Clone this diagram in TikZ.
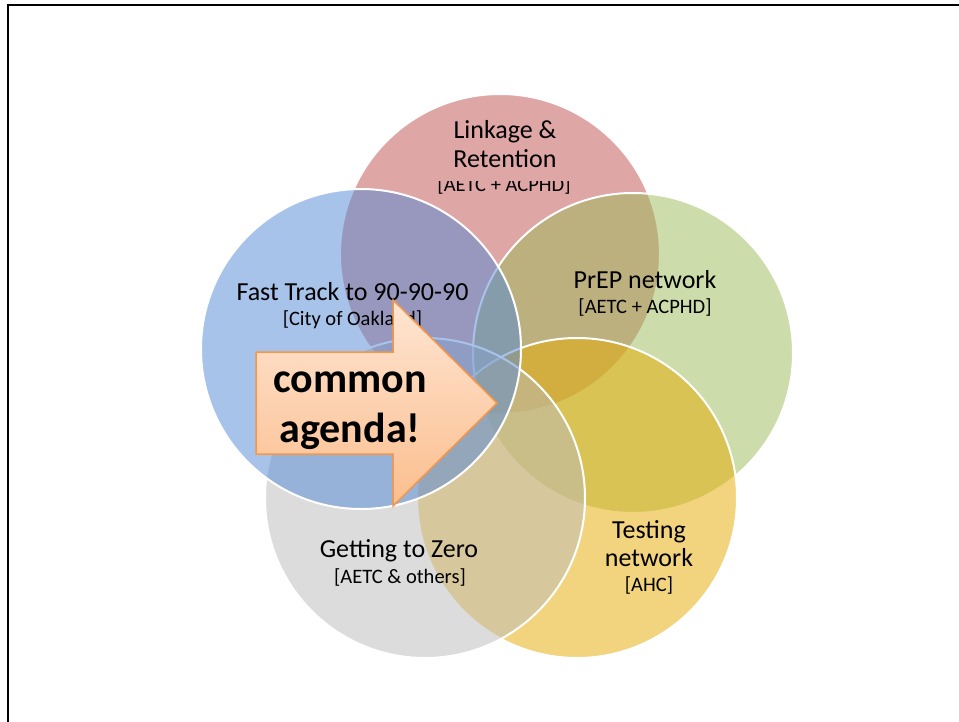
\documentclass[tikz,border=0pt]{standalone}
\usepackage{fontspec}
\setmainfont{Carlito}
\definecolor{cRed}{RGB}{192,78,78}
\definecolor{cBlue}{RGB}{83,137,215}
\definecolor{cGreen}{RGB}{157,187,89}
\definecolor{cGold}{RGB}{231,171,0}
\definecolor{cGray}{RGB}{187,187,187}
\definecolor{arrowLine}{RGB}{247,150,70}
\definecolor{arrowTop}{RGB}{254,229,210}
\definecolor{arrowBot}{RGB}{251,190,142}
\begin{document}
\begin{tikzpicture}[x=1pt,y=-1pt,
  venn/.style={circle, minimum size=320pt, inner sep=0pt, outer sep=0pt, draw=white, line width=2pt, fill opacity=0.5},
  title/.style={anchor=base, inner sep=0pt, font=\fontsize{26}{30}\selectfont},
  sub/.style={anchor=base, inner sep=0pt, font=\fontsize{20.5}{24}\selectfont},
  big/.style={anchor=base, inner sep=0pt, font=\fontsize{42}{50}\selectfont\bfseries},
  arrowbox/.style={draw=arrowLine, line width=1.5pt, line join=miter, top color=arrowTop, bottom color=arrowBot}]
\useasboundingbox (0,0) rectangle (959,721);
\clip (0,0) rectangle (959,721);
\fill[white] (0,0) rectangle (959,721);
\draw[line width=2.5pt] (8,5) rectangle (980,740);

\node[venn, fill=cRed]   (red)   at (500,254) {};
\node[venn, fill=cGreen] (green) at (633,353) {};
\node[venn, fill=cGold]  (gold)  at (577,498) {};
\node[venn, fill=cGray]  (gray)  at (425,498) {};
\node[venn, fill=cBlue]  (blue)  at (361,349) {};

\node[title] (t1a) at (505,138) {Linkage \&};
\node[title] (t1b) at (505,167) {Retention};
\begin{scope}
  \clip (400,181.5) rectangle (610,200);
  \node[sub] (s1) at (504,191) {[AETC + ACPHD]};
\end{scope}

\node[title] (t2) at (645,288) {PrEP network};
\node[sub]   (s2) at (645,313) {[AETC + ACPHD]};

\node[title] (t3a) at (649,538) {Testing};
\node[title] (t3b) at (649,566.5) {network};
\node[sub]   (s3)  at (649,591.5) {[AHC]};

\node[title] (t4) at (399,557) {Getting to Zero};
\node[sub]   (s4) at (400,583) {[AETC \& others]};

\node[title] (t5) at (352.5,300) {Fast Track to 90-90-90};
\node[sub]   (s5) at (352.5,325) {[City of Oakland]};

\path[arrowbox] (256,352) -- (393,352) -- (393,300) -- (497,403) -- (393,506) -- (393,454) -- (256,454) -- cycle;
\node[big] (c1) at (350,392) {common};
\node[big] (c2) at (350,442) {agenda!};
\end{tikzpicture}
\end{document}
